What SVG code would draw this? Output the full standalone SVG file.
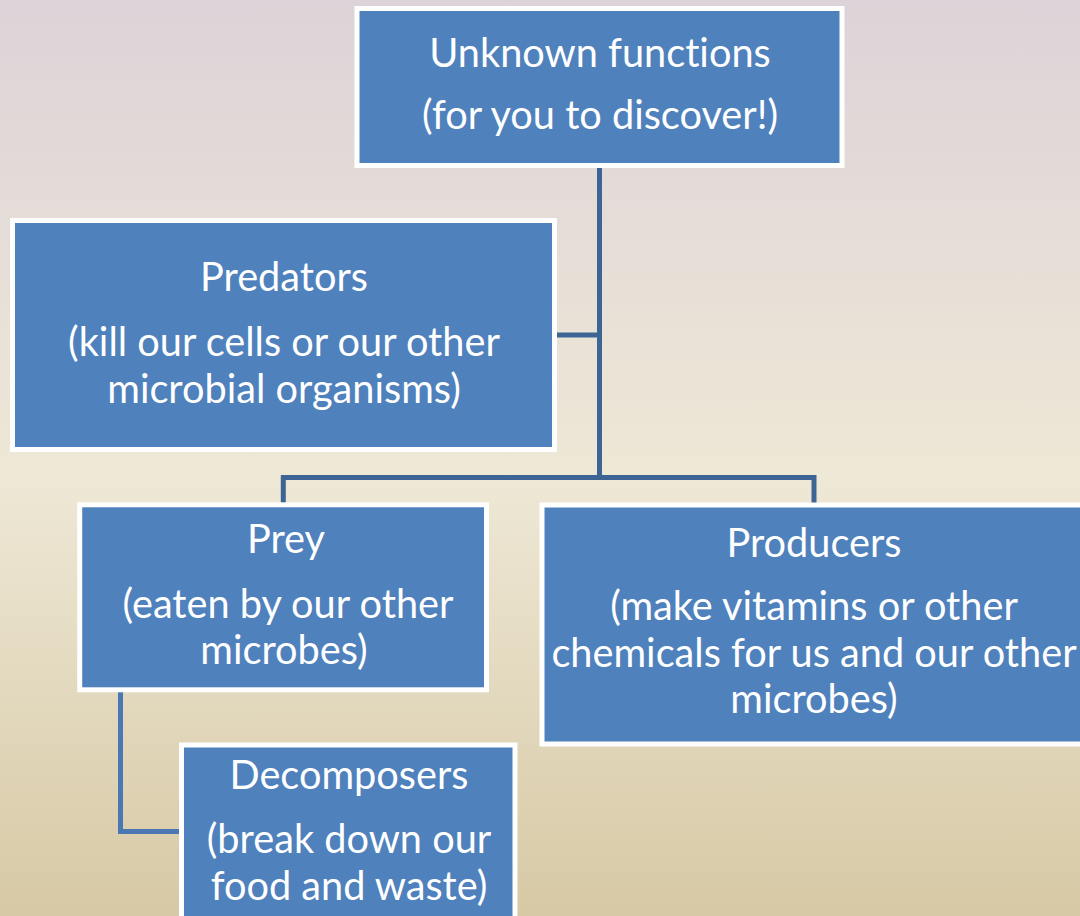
<svg xmlns="http://www.w3.org/2000/svg" width="1080" height="916" viewBox="0 0 1080 916">
<defs>
<linearGradient id="bg" x1="0" y1="0" x2="0" y2="1">
<stop offset="0" stop-color="#dcd3d8"/>
<stop offset="0.52" stop-color="#eee8d6"/>
<stop offset="1" stop-color="#d7c9a5"/>
</linearGradient>
<style>
.box{fill:#4f81bd;stroke:#ffffff;stroke-width:5}
.t{font-family:Lato,"Liberation Sans",sans-serif;font-size:39.7px;fill:#ffffff;text-anchor:middle;font-variant-ligatures:none}
.c{fill:none;stroke:#3c6494;stroke-width:5}
.c2{fill:none;stroke:#4a78b2;stroke-width:5}
</style>
</defs>
<rect x="0" y="0" width="1080" height="916" fill="url(#bg)"/>
<g id="connectors">
<path class="c" d="M599.5 167 V477.5"/>
<path class="c" d="M557 335 H599.5"/>
<path class="c" d="M283.3 503 V477.5 H814 V503"/>
<path class="c2" d="M120.5 692 V831.5 H180"/>
</g>
<g id="node-unknown">
<rect class="box" x="357" y="8.5" width="485" height="157"/>
<text class="t" x="600" y="66.7">Unknown functions</text>
<text class="t" x="600" y="129.3">(for you to discover!)</text>
</g>
<g id="node-predators">
<rect class="box" x="12.5" y="220.5" width="542" height="229"/>
<text class="t" x="284" y="291">Predators</text>
<text class="t" x="284" y="356">(kill our cells or our other</text>
<text class="t" x="284" y="402.7">microbial organisms)</text>
</g>
<g id="node-prey">
<rect class="box" x="79.7" y="504.8" width="406.8" height="185"/>
<text class="t" x="286" y="553.3">Prey</text>
<text class="t" x="288" y="617.7">(eaten by our other</text>
<text class="t" x="284" y="664">microbes)</text>
</g>
<g id="node-producers">
<rect class="box" x="542" y="505" width="545" height="239"/>
<text class="t" x="814" y="556.7">Producers</text>
<text class="t" x="814" y="620">(make vitamins or other</text>
<text class="t" x="814" y="666.7">chemicals for us and our other</text>
<text class="t" x="814" y="712.7">microbes)</text>
</g>
<g id="node-decomposers">
<rect class="box" x="181.5" y="745" width="333.5" height="190"/>
<text class="t" x="349" y="789">Decomposers</text>
<text class="t" x="349" y="853.3">(break down our</text>
<text class="t" x="349" y="900">food and waste)</text>
</g>
</svg>
